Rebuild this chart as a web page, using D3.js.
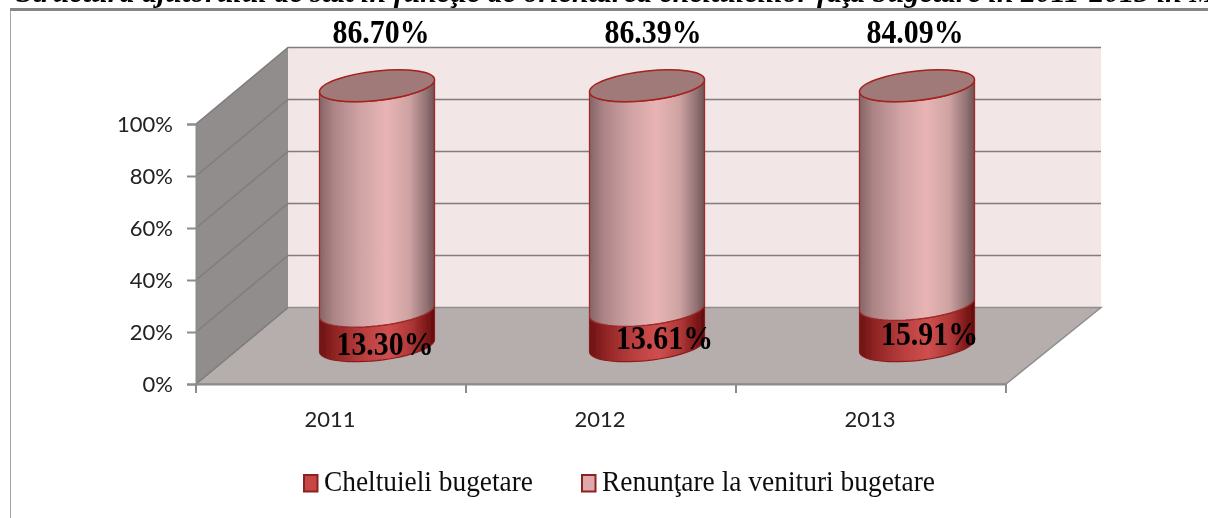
<!DOCTYPE html>
<html>
<head>
<meta charset="utf-8">
<script src="https://cdnjs.cloudflare.com/ajax/libs/d3/7.8.5/d3.min.js"></script>
<style>html,body{margin:0;padding:0;background:#fff;overflow:hidden}svg{display:block}</style>
</head>
<body>
<svg id="c" width="1208" height="518"></svg>
<script>
const years = ["2011", "2012", "2013"];
const cheltuieli = [13.30, 13.61, 15.91];
const renuntare = [86.70, 86.39, 84.09];
const yTicks = [0, 20, 40, 60, 80, 100];
const seriesNames = ["Cheltuieli bugetare", "Renunţare la venituri bugetare"];
const titleText = "Structura ajutorului de stat în funcţie de orientarea cheltuielilor faţă bugetare în 2011-2013 în Moldova";

const svg = d3.select("#c");
const W = {l:196, r:1006, b:384, t:124, dx:92, dy:-76.5};
const x = d3.scaleBand().domain(years).range([W.l, W.r]);
const y = d3.scaleLinear().domain([0,100]).range([W.b, W.t]);
const defs = svg.append("defs");
function grad(id, stops){
  const g = defs.append("linearGradient").attr("id",id).attr("x1",0).attr("x2",1).attr("y1",0).attr("y2",0);
  stops.forEach(s=>g.append("stop").attr("offset",s[0]).attr("stop-color",s[1]));
}
grad("gUp",[[0,"#866466"],[0.12,"#ab8486"],[0.35,"#cfa2a3"],[0.58,"#e8b4b4"],[0.78,"#cfa3a3"],[0.93,"#927273"],[1,"#6e5354"]]);
grad("gLo",[[0,"#6d1212"],[0.15,"#932626"],[0.4,"#bc4040"],[0.6,"#cf4f4f"],[0.8,"#ad3636"],[0.94,"#7a1616"],[1,"#5f0c0c"]]);
const soft = defs.append("filter").attr("id","soft").attr("x",0).attr("y",0).attr("width",1).attr("height",1);
soft.append("feGaussianBlur").attr("stdDeviation",0.45);

const root = svg.append("g").attr("filter","url(#soft)");

// caption cut by the top of the picture, as in the reference
root.append("text").attr("x",16).attr("y",1.5)
  .attr("font-family","Liberation Serif").attr("font-weight","bold").attr("font-style","italic")
  .attr("font-size",30).attr("fill","#000").text(titleText);

// frame
root.append("line").attr("x1",10).attr("x2",1208).attr("y1",9.5).attr("y2",9.5).attr("stroke","#858585").attr("stroke-width",3);
root.append("line").attr("x1",10).attr("x2",10).attr("y1",9).attr("y2",518).attr("stroke","#8d8d8d").attr("stroke-width",1.6);

// walls
const P = (px,py)=>[px,py];
const line = d3.line();
root.append("path").attr("d",line([P(W.l+W.dx,y(100)+W.dy),P(W.r+W.dx+3,y(100)+W.dy),P(W.r+W.dx+3,y(0)+W.dy),P(W.l+W.dx,y(0)+W.dy)])+"Z").attr("fill","#f3e6e6");
root.append("path").attr("d",line([P(W.l,y(100)),P(W.l+W.dx,y(100)+W.dy),P(W.l+W.dx,y(0)+W.dy),P(W.l,y(0))])+"Z").attr("fill","#928d8d");
root.append("path").attr("d",line([P(W.l,y(0)),P(W.l+W.dx,y(0)+W.dy),P(W.r+W.dx+3,y(0)+W.dy),P(W.r,y(0))])+"Z")
  .attr("fill","#b6aeac").attr("stroke","#8f8f8f").attr("stroke-width",1.5);

// gridlines
yTicks.forEach(t=>{
  root.append("path").attr("fill","none").attr("stroke","#807d7d").attr("stroke-width",1.6)
    .attr("d",line(t===0?[P(W.l,y(t)),P(W.l+W.dx,y(t)+W.dy)]:[P(W.l,y(t)),P(W.l+W.dx,y(t)+W.dy),P(W.r+W.dx+3,y(t)+W.dy)]));
});

// axes
const axisFont = "Lato";
const ay = root.append("g").attr("transform",`translate(${W.l},0)`)
  .call(d3.axisLeft(y).tickValues(yTicks).tickFormat(d=>d+"%").tickSize(9).tickPadding(14));
const ax = root.append("g").attr("transform",`translate(0,${W.b})`)
  .call(d3.axisBottom(x).tickSize(0).tickPadding(27));
ax.selectAll(".tick line").remove();
[ay,ax].forEach(a=>{
  a.selectAll("path.domain").attr("stroke","#8c8c8c").attr("stroke-width",2);
  a.selectAll("line").attr("stroke","#8c8c8c").attr("stroke-width",2);
  a.selectAll("text").attr("font-family",axisFont).attr("font-size",22).attr("fill","#222");
});
ax.selectAll("text").attr("dx",-1);
ay.selectAll("text").attr("dy","0.34em");
const bounds = d3.range(years.length+1).map(i=>W.l+i*x.step());
bounds.forEach(b=>root.append("line").attr("x1",b).attr("x2",b).attr("y1",W.b).attr("y2",W.b+9).attr("stroke","#8c8c8c").attr("stroke-width",2));

// cylinders
const rx = 57.5, ry = 14.8, shear = -6;
const centre = d => x(d)+x.bandwidth()/2+W.dx/2;
const level = v => y(v)+W.dy/2;
const arc = (cx,cy) => d3.range(0,181,6).map(a=>{
  const t=a*Math.PI/180; return [cx+rx*Math.cos(t), cy+ry*Math.sin(t)+shear*Math.cos(t)];
});
const body = (cx,v0,v1) => line(arc(cx,level(v0)).concat(arc(cx,level(v1)).reverse()))+"Z";

years.forEach((yr,i)=>{
  const cx = centre(yr), v0 = cheltuieli[i], v1 = 100;
  root.append("path").attr("d",body(cx,0,v0)).attr("fill","url(#gLo)").attr("stroke","#8a1a1a").attr("stroke-width",1.2);
  root.append("path").attr("d",body(cx,v0,v0+renuntare[i])).attr("fill","url(#gUp)").attr("stroke","#a02a2a").attr("stroke-width",1.3);
  root.append("ellipse").attr("rx",rx).attr("ry",ry).attr("fill","#a07a78").attr("stroke","#a3201f").attr("stroke-width",1.5)
    .attr("transform",`matrix(1,${shear/rx},0,1,${cx},${level(v1)})`);
});

// value labels
const lab = (t,lx,ly)=>root.append("text").attr("x",lx).attr("y",ly).attr("text-anchor","middle")
  .attr("textLength",97).attr("lengthAdjust","spacingAndGlyphs")
  .attr("font-family","Liberation Serif").attr("font-weight","bold").attr("font-size",33).attr("fill","#000").text(t);
const fmt = v => v.toFixed(2)+"%";
const topNudge = [4,6,-2], lowNudge = [8,17.5,12.5], lowRise = [-7,-1,3];
years.forEach((yr,i)=>{
  lab(fmt(renuntare[i]),centre(yr)+topNudge[i],level(100)-43);
  lab(fmt(cheltuieli[i]),centre(yr)+lowNudge[i],level(0)-lowRise[i]+2);
});

// legend
const swatch = ["#c64545","#e0a9a9"];
const legendText = [[324,209],[602,333]];
[304,582].forEach((p,i)=>{
  root.append("rect").attr("x",p).attr("y",475).attr("width",13.5).attr("height",16.5).attr("fill",swatch[i]).attr("stroke","#8a2222").attr("stroke-width",2);
  root.append("text").attr("x",legendText[i][0]).attr("y",491).attr("textLength",legendText[i][1]).attr("lengthAdjust","spacingAndGlyphs")
    .attr("font-family","Liberation Serif").attr("font-size",29).attr("fill","#111").text(seriesNames[i]);
});
</script>
</body>
</html>
